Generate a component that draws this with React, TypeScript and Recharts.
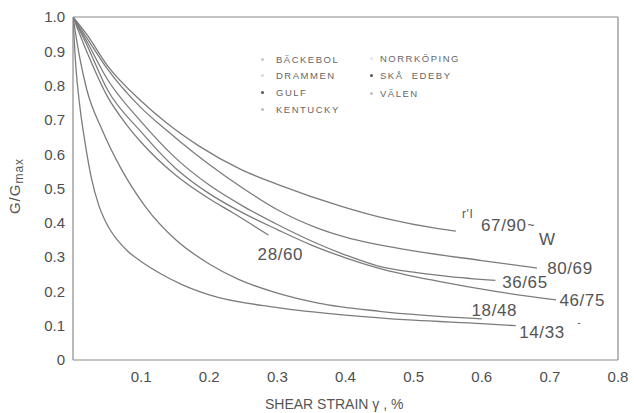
import React from 'react';
import { LineChart, Line, XAxis, YAxis, ReferenceLine, ReferenceDot, Label } from 'recharts';

// Curves: G/Gmax vs shear strain (%)
const curve6790 = [
  { x: 0, y: 1 }, { x: 0.02, y: 0.95 }, { x: 0.05, y: 0.86 }, { x: 0.1, y: 0.755 },
  { x: 0.138, y: 0.69 }, { x: 0.184, y: 0.625 }, { x: 0.247, y: 0.555 }, { x: 0.3, y: 0.512 },
  { x: 0.394, y: 0.448 }, { x: 0.46, y: 0.412 }, { x: 0.536, y: 0.383 }, { x: 0.562, y: 0.376 },
];
const curve8069 = [
  { x: 0, y: 1 }, { x: 0.02, y: 0.94 }, { x: 0.05, y: 0.85 }, { x: 0.1, y: 0.735 },
  { x: 0.136, y: 0.672 }, { x: 0.177, y: 0.605 }, { x: 0.2, y: 0.57 }, { x: 0.25, y: 0.5 },
  { x: 0.3, y: 0.438 }, { x: 0.357, y: 0.386 }, { x: 0.4, y: 0.358 }, { x: 0.5, y: 0.318 },
  { x: 0.6, y: 0.29 }, { x: 0.681, y: 0.268 },
];
const curve3665 = [
  { x: 0, y: 1 }, { x: 0.02, y: 0.93 }, { x: 0.05, y: 0.82 }, { x: 0.1, y: 0.695 },
  { x: 0.15, y: 0.59 }, { x: 0.2, y: 0.51 }, { x: 0.25, y: 0.448 }, { x: 0.3, y: 0.395 },
  { x: 0.35, y: 0.347 }, { x: 0.4, y: 0.306 }, { x: 0.448, y: 0.274 }, { x: 0.5, y: 0.256 },
  { x: 0.55, y: 0.244 }, { x: 0.62, y: 0.232 },
];
const curve4675 = [
  { x: 0, y: 1 }, { x: 0.02, y: 0.92 }, { x: 0.05, y: 0.79 }, { x: 0.1, y: 0.665 },
  { x: 0.15, y: 0.56 }, { x: 0.2, y: 0.485 }, { x: 0.25, y: 0.428 }, { x: 0.3, y: 0.38 },
  { x: 0.35, y: 0.335 }, { x: 0.4, y: 0.298 }, { x: 0.448, y: 0.268 }, { x: 0.543, y: 0.227 },
  { x: 0.62, y: 0.2 }, { x: 0.709, y: 0.175 },
];
const curve2860 = [
  { x: 0, y: 1 }, { x: 0.02, y: 0.9 }, { x: 0.05, y: 0.77 }, { x: 0.079, y: 0.685 },
  { x: 0.1, y: 0.635 }, { x: 0.15, y: 0.54 }, { x: 0.2, y: 0.47 }, { x: 0.234, y: 0.43 },
  { x: 0.26, y: 0.398 }, { x: 0.287, y: 0.364 },
];
const curve1848 = [
  { x: 0, y: 1 }, { x: 0.01, y: 0.88 }, { x: 0.02, y: 0.79 }, { x: 0.043, y: 0.67 },
  { x: 0.07, y: 0.56 }, { x: 0.107, y: 0.445 }, { x: 0.15, y: 0.352 }, { x: 0.2, y: 0.28 },
  { x: 0.243, y: 0.235 }, { x: 0.3, y: 0.195 }, { x: 0.36, y: 0.166 }, { x: 0.45, y: 0.142 },
  { x: 0.6, y: 0.12 },
];
const curve1433 = [
  { x: 0, y: 1 }, { x: 0.004, y: 0.86 }, { x: 0.01, y: 0.74 }, { x: 0.018, y: 0.63 },
  { x: 0.027, y: 0.53 }, { x: 0.038, y: 0.45 }, { x: 0.05, y: 0.395 }, { x: 0.065, y: 0.35 },
  { x: 0.08, y: 0.318 }, { x: 0.1, y: 0.287 }, { x: 0.13, y: 0.25 }, { x: 0.16, y: 0.22 },
  { x: 0.2, y: 0.19 }, { x: 0.3, y: 0.153 }, { x: 0.4, y: 0.131 }, { x: 0.5, y: 0.116 },
  { x: 0.6, y: 0.106 }, { x: 0.65, y: 0.1 },
];

const curves = [curve6790, curve8069, curve3665, curve4675, curve2860, curve1848, curve1433];

// Curve annotations (text, x, y at baseline-left)
const annoText = ['67/90', '~', 'W', "r'I", '80/69', '36/65', '46/75', '18/48', '14/33', '28/60', '-'];
const annoX = [0.599, 0.667, 0.684, 0.571, 0.696, 0.63, 0.714, 0.585, 0.655, 0.271, 0.74];
const annoY = [0.376, 0.382, 0.335, 0.414, 0.251, 0.21, 0.157, 0.128, 0.064, 0.292, 0.1];
const annoSize = [17, 12, 17, 12, 17, 17, 17, 17, 17, 17, 10];

const xTicks = [0.1, 0.2, 0.3, 0.4, 0.5, 0.6, 0.7, 0.8];
const yTicks = [0, 0.1, 0.2, 0.3, 0.4, 0.5, 0.6, 0.7, 0.8, 0.9, 1.0];

const legendLeft = ['BÄCKEBOL', 'DRAMMEN', 'GULF', 'KENTUCKY'];
const legendRight = ['NORRKÖPING', 'SKÅ  EDEBY', 'VÄLEN'];
const legendLeftMarkers = ['#c8c8c8', '#d8d8d8', '#555', '#bbb'];
const legendRightMarkers = ['#e4e4e4', '#555', '#c0c0c0'];

const FONT = '"Liberation Sans", Arial, Helvetica, sans-serif';
const STROKE = '#7c7c7c';

export default function App() {
  return (
    <div style={{ position: 'absolute', left: 0, top: 0, width: 634, height: 413, background: '#fff' }}>
      <LineChart width={634} height={413} margin={{ top: 17, right: 16, bottom: 23, left: 0 }}>
        <XAxis
          type="number"
          dataKey="x"
          domain={[0, 0.8]}
          ticks={xTicks}
          tickFormatter={(v: number) => v.toFixed(1)}
          height={30}
          tickLine={false}
          tickMargin={5}
          axisLine={{ stroke: '#8a8a8a', strokeWidth: 1.2 }}
          tick={{ fill: '#4e4e4e', fontSize: 15, fontFamily: FONT }}
          allowDataOverflow
        >
          <Label
            content={() => (
              <text x={265} y={409} fill="#555" fontSize={14} fontFamily={FONT}>
                SHEAR STRAIN γ , %
              </text>
            )}
          />
        </XAxis>
        <YAxis
          type="number"
          domain={[0, 1]}
          ticks={yTicks}
          tickFormatter={(v: number) => (v === 0 ? '0' : v.toFixed(1))}
          width={73}
          tickLine={false}
          axisLine={{ stroke: '#8a8a8a', strokeWidth: 1.2 }}
          tick={{ fill: '#4e4e4e', fontSize: 15, fontFamily: FONT }}
          allowDataOverflow
        >
          <Label
            content={() => (
              <text
                x={20}
                y={186}
                transform="rotate(-90, 20, 186)"
                textAnchor="middle"
                fill="#555"
                fontSize={15}
                fontFamily={FONT}
                letterSpacing={1}
              >
                G/G
                <tspan fontSize={12} dy={3}>max</tspan>
              </text>
            )}
          />
        </YAxis>
        <ReferenceLine y={1} stroke="#8a8a8a" strokeWidth={1.2} />
        <ReferenceLine x={0.8} stroke="#8a8a8a" strokeWidth={1.2} />
        {curves.map((c, i) => (
          <Line
            key={i}
            data={c}
            dataKey="y"
            type="monotone"
            stroke={STROKE}
            strokeWidth={1.3}
            dot={false}
            activeDot={false}
            isAnimationActive={false}
          />
        ))}
        {annoText.map((t, i) => (
          <ReferenceDot
            key={'a' + i}
            x={annoX[i]}
            y={annoY[i]}
            r={0}
            ifOverflow="visible"
            shape={(p: any) => (
              <text x={p.cx} y={p.cy} fill="#555" fontSize={annoSize[i]} fontFamily={FONT} letterSpacing={0.6}>
                {t}
              </text>
            )}
          />
        ))}
      </LineChart>
      {legendLeft.map((name, i) => (
        <div
          key={'l' + i}
          style={{
            position: 'absolute', left: 261, top: 53 + i * 16.7, height: 12, display: 'flex', alignItems: 'center',
            fontFamily: FONT, fontSize: 9.5, letterSpacing: 1.5, color: '#666', whiteSpace: 'pre',
          }}
        >
          <span style={{ display: 'inline-block', width: 3, height: 3, borderRadius: 2, background: legendLeftMarkers[i], marginRight: 12 }} />
          {name}
        </div>
      ))}
      {legendRight.map((name, i) => (
        <div
          key={'r' + i}
          style={{
            position: 'absolute', left: 370, top: 52 + i * 17.5, height: 12, display: 'flex', alignItems: 'center',
            fontFamily: FONT, fontSize: 9.5, letterSpacing: 1.5, color: '#666', whiteSpace: 'pre',
          }}
        >
          <span style={{ display: 'inline-block', width: 3, height: 3, borderRadius: 2, background: legendRightMarkers[i], marginRight: 7 }} />
          {name}
        </div>
      ))}
    </div>
  );
}
